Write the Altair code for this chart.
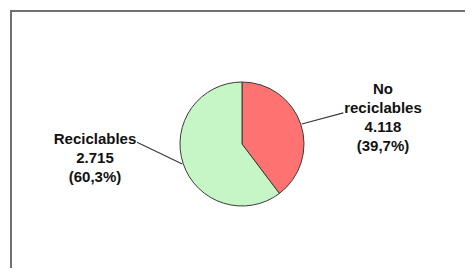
import math
import pandas as pd
import altair as alt

# ---- data ----
categories = ["No reciclables", "Reciclables"]
percents = [39.7, 60.3]
name_lines = [["No", "reciclables"], ["Reciclables"]]
count_labels = ["4.118", "2.715"]
pct_labels = ["(39,7%)", "(60,3%)"]

# ---- style / layout ----
colors = ["#FF7272", "#C6F6C6"]
W, H = 457, 260
CX, CY, R = 234, 136, 62
R_LABEL = 145
label_offsets = {"No reciclables": (3.5, -9), "Reciclables": (-9.5, -51)}
leader_inner = R + 1
leader_outer = {"No reciclables": (106, 1.5), "Reciclables": (105, 19.5)}

rows = []
cum = 0.0
for i, c in enumerate(categories):
    p = percents[i]
    mid = (cum + p / 2) / 100 * 360
    cum += p
    a = math.radians(mid)
    ox, oy = label_offsets[c]
    lr, tilt = leader_outer[c]
    b = math.radians(mid + tilt)
    rows.append({
        "cat": c,
        "pct": p,
        "order": i,
        "text": "\n".join(name_lines[i] + [count_labels[i], pct_labels[i]]),
        "lx": CX + R_LABEL * math.sin(a) + ox,
        "ly": CY - R_LABEL * math.cos(a) + oy,
        "x1": CX + leader_inner * math.sin(a),
        "y1": CY - leader_inner * math.cos(a),
        "x2": CX + lr * math.sin(b),
        "y2": CY - lr * math.cos(b),
    })
df = pd.DataFrame(rows)

xs = alt.Scale(domain=[0, W], range=[0, W], zero=False, nice=False)
ys = alt.Scale(domain=[0, H], range=[0, H], zero=False, nice=False)

base = alt.Chart(df)

pie = base.mark_arc(radius=R, stroke="#3a3a3a", strokeWidth=1).encode(
    theta=alt.Theta("pct:Q", stack=True),
    color=alt.Color("cat:N", scale=alt.Scale(domain=categories, range=colors), legend=None),
    order=alt.Order("order:Q"),
    x=alt.value(CX),
    y=alt.value(CY),
)

leaders = base.mark_rule(color="#3a3a3a", strokeWidth=1.2).encode(
    x=alt.X("x1:Q", scale=xs, axis=None),
    y=alt.Y("y1:Q", scale=ys, axis=None),
    x2="x2:Q",
    y2="y2:Q",
)

labels = base.mark_text(
    font="Liberation Sans", fontWeight="bold", fontSize=15, lineBreak="\n",
    lineHeight=19, align="center", baseline="middle", color="#111111",
).encode(
    x=alt.X("lx:Q", scale=xs, axis=None),
    y=alt.Y("ly:Q", scale=ys, axis=None),
    text="text:N",
)

border_left = base.mark_rule(color="#707070", strokeWidth=2).encode(
    x=alt.value(3), y=alt.value(2), y2=alt.value(H + 20)
)
border_top = base.mark_rule(color="#707070", strokeWidth=2).encode(
    y=alt.value(3), x=alt.value(2), x2=alt.value(W + 20)
)

chart = alt.layer(border_left, border_top, pie, leaders, labels).properties(
    width=W, height=H, padding=0, autosize=alt.AutoSizeParams(type="none"),
    background="white",
).configure_view(stroke=None)

chart.save("out.html", embed_options={"renderer": "svg", "actions": False})
